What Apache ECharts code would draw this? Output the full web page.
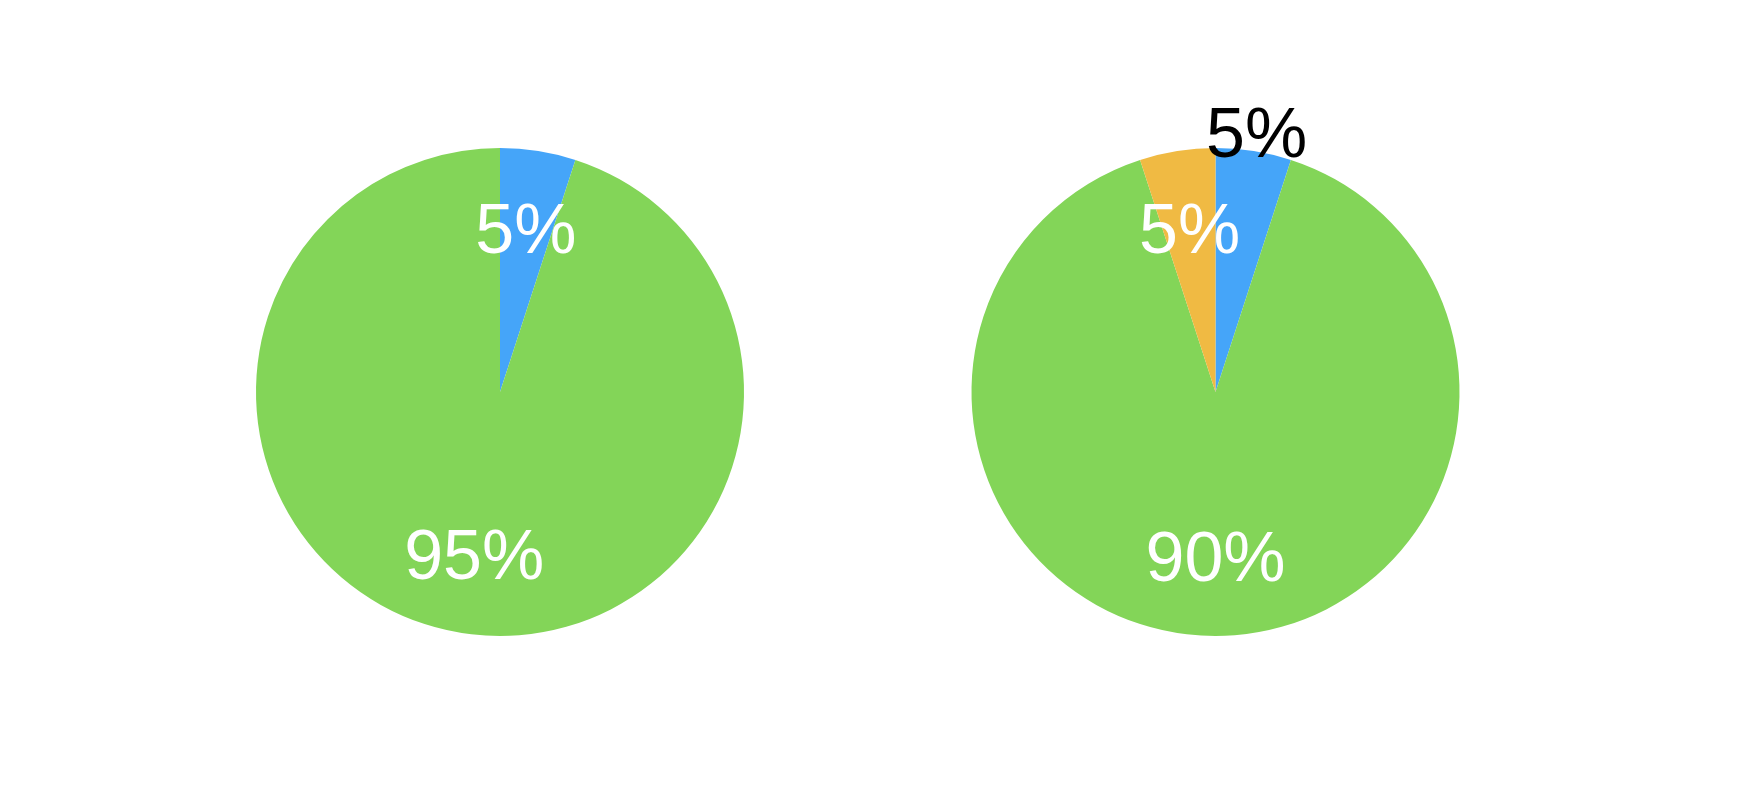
<!DOCTYPE html>
<html>
<head>
<meta charset="utf-8">
<style>
  html, body { margin: 0; padding: 0; background: #ffffff; }
  #chart { width: 1748px; height: 804px; }
</style>
<script src="https://cdn.jsdelivr.net/npm/echarts@6/dist/echarts.min.js"></script>
</head>
<body>
<div id="chart"></div>
<script>
// ---- data ----
const leftCategories = ['Segment A', 'Segment B'];
const leftValues = [5, 95];
const rightCategories = ['Segment A', 'Segment B', 'Segment C'];
const rightValues = [5, 90, 5];

// ---- styles ----
const BLUE = '#45a5f9';
const GREEN = '#83d558';
const ORANGE = '#f0ba43';
const leftColors = [BLUE, GREEN];
const rightColors = [BLUE, GREEN, ORANGE];
const FONT = '"Liberation Sans", Arial, sans-serif';
const FONT_SIZE = 70;
const R = 244;
const leftCenter = [500, 392];
const rightCenter = [1215.5, 392];
const LABEL_SHIFT = [0, 5];

function pieData(cats, vals, colors) {
  return cats.map((c, i) => ({ name: c, value: vals[i], itemStyle: { color: colors[i] } }));
}
function labelData(cats, vals, showIdx) {
  return cats.map((c, i) => ({
    name: c, value: vals[i],
    label: { show: showIdx.indexOf(i) >= 0 }
  }));
}
const pctFmt = p => p.value + '%';

const basePie = {
  type: 'pie',
  startAngle: 90,
  clockwise: true,
  animation: false,
  silent: true,
  labelLine: { show: false },
  emphasis: { disabled: true }
};
const overlayStyle = { color: 'rgba(0,0,0,0)', borderWidth: 0 };

const option = {
  backgroundColor: '#ffffff',
  animation: false,
  series: [
    // visible pies
    Object.assign({}, basePie, {
      center: leftCenter, radius: [0, R],
      label: { show: false },
      data: pieData(leftCategories, leftValues, leftColors)
    }),
    Object.assign({}, basePie, {
      center: rightCenter, radius: [0, R],
      label: { show: false },
      data: pieData(rightCategories, rightValues, rightColors)
    }),
    // label overlays (white, inside)
    Object.assign({}, basePie, {
      center: leftCenter, radius: [80, R],
      itemStyle: overlayStyle,
      label: { show: true, position: 'inside', formatter: pctFmt, color: '#ffffff',
               fontSize: FONT_SIZE, fontFamily: FONT, offset: LABEL_SHIFT },
      data: labelData(leftCategories, leftValues, [0, 1])
    }),
    Object.assign({}, basePie, {
      center: rightCenter, radius: [80, R],
      itemStyle: overlayStyle,
      label: { show: true, position: 'inside', formatter: pctFmt, color: '#ffffff',
               fontSize: FONT_SIZE, fontFamily: FONT, offset: LABEL_SHIFT },
      data: labelData(rightCategories, rightValues, [1, 2])
    }),
    // label overlay (black, just outside the rim)
    Object.assign({}, basePie, {
      center: rightCenter, radius: [R, R + 32],
      itemStyle: overlayStyle,
      label: { show: true, position: 'inside', formatter: pctFmt, color: '#000000',
               fontSize: FONT_SIZE, fontFamily: FONT, offset: LABEL_SHIFT },
      data: labelData(rightCategories, rightValues, [0])
    })
  ]
};

const chart = echarts.init(document.getElementById('chart'), null, { renderer: 'canvas' });
chart.setOption(option);
</script>
</body>
</html>
